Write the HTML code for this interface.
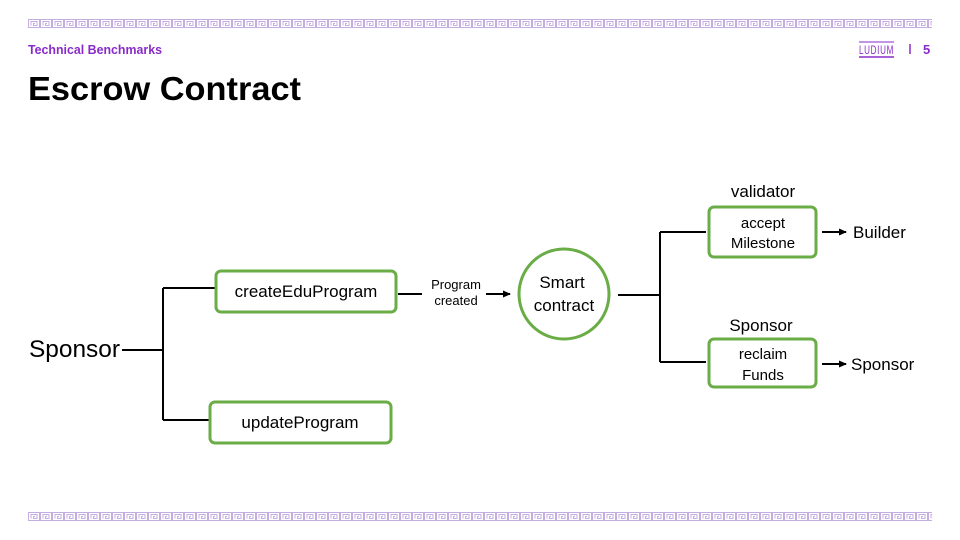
<!DOCTYPE html>
<html><head><meta charset="utf-8"><style>
html,body{margin:0;padding:0;background:#fff}
body{width:960px;height:540px;position:relative;overflow:hidden;font-family:"Liberation Sans",sans-serif}
</style></head><body>
<svg width="960" height="540" viewBox="0 0 960 540" xmlns="http://www.w3.org/2000/svg" style="position:absolute;left:0;top:0">
<defs>
<pattern id="gk" x="28" y="19" width="12" height="9" patternUnits="userSpaceOnUse">
<rect x="0.5" y="0.5" width="11" height="8" fill="none" stroke="#c4aee0" stroke-width="1"/>
<path d="M3 6.5 V2.5 H9 V6.5 H5.5 V4.5 H7" fill="none" stroke="#c4aee0" stroke-width="1"/>
</pattern>
<pattern id="gk2" x="28" y="512" width="12" height="9" patternUnits="userSpaceOnUse">
<rect x="0.5" y="0.5" width="11" height="8" fill="none" stroke="#c4aee0" stroke-width="1"/>
<path d="M3 6.5 V2.5 H9 V6.5 H5.5 V4.5 H7" fill="none" stroke="#c4aee0" stroke-width="1"/>
</pattern>
<marker id="ar" markerWidth="8" markerHeight="8" refX="7" refY="4" orient="auto" markerUnits="userSpaceOnUse"><path d="M0 0.5 L8 4 L0 7.5Z" fill="#000"/></marker>
</defs>
<rect x="28" y="19" width="904" height="9" fill="url(#gk)"/>
<rect x="28" y="512" width="904" height="9" fill="url(#gk2)"/>
<text x="28" y="54" font-size="13" font-weight="bold" fill="#8a2bc9" textLength="134" lengthAdjust="spacingAndGlyphs">Technical Benchmarks</text>
<text x="859" y="54" font-size="12" fill="#8a2bc9" letter-spacing="1" textLength="35" lengthAdjust="spacingAndGlyphs">LUDIUM</text>
<line x1="859" y1="57" x2="894" y2="57" stroke="#8a2bc9" stroke-width="1.5"/>
<line x1="859" y1="42" x2="894" y2="42" stroke="#8a2bc9" stroke-width="1"/>
<line x1="910" y1="44" x2="910" y2="54" stroke="#8a2bc9" stroke-width="1.5"/>
<text x="923" y="54" font-size="13" font-weight="bold" fill="#8a2bc9">5</text>
<text x="28" y="100" font-size="33" font-weight="bold" fill="#000" textLength="273" lengthAdjust="spacingAndGlyphs">Escrow Contract</text>

<g stroke="#000" stroke-width="2" fill="none">
<path d="M122 350 H163 M163 288 V420 M163 288 H215 M163 420 H210"/>
<path d="M398 294 H422"/>
<path d="M486 294 H510" marker-end="url(#ar)"/>
<path d="M618 295 H660 M660 232 V362 M660 232 H706 M660 362 H706"/>
<path d="M822 232 H846" marker-end="url(#ar)"/>
<path d="M822 364 H846" marker-end="url(#ar)"/>
</g>
<g fill="#fff" stroke="#6aac46" stroke-width="3">
<rect x="216" y="271" width="180" height="41" rx="5"/>
<rect x="210" y="402" width="181" height="41" rx="5"/>
<rect x="709" y="207" width="107" height="50" rx="5"/>
<rect x="709" y="339" width="107" height="48" rx="5"/>
<circle cx="564" cy="294" r="45"/>
</g>
<g fill="#000" font-size="17" text-anchor="middle">
<text x="306" y="297">createEduProgram</text>
<text x="300" y="428">updateProgram</text>
<text x="763" y="228" font-size="15">accept</text>
<text x="763" y="248" font-size="15">Milestone</text>
<text x="763" y="359" font-size="15">reclaim</text>
<text x="763" y="380" font-size="15">Funds</text>
<text x="562" y="288">Smart</text>
<text x="564" y="311">contract</text>
<text x="456" y="289" font-size="13">Program</text>
<text x="456" y="305" font-size="13">created</text>
<text x="763" y="197">validator</text>
<text x="761" y="331">Sponsor</text>
</g>
<text x="29" y="357" font-size="24" fill="#000" textLength="91" lengthAdjust="spacingAndGlyphs">Sponsor</text>
<text x="853" y="238" font-size="17" fill="#000">Builder</text>
<text x="851" y="370" font-size="17" fill="#000">Sponsor</text>
</svg>
</body></html>
